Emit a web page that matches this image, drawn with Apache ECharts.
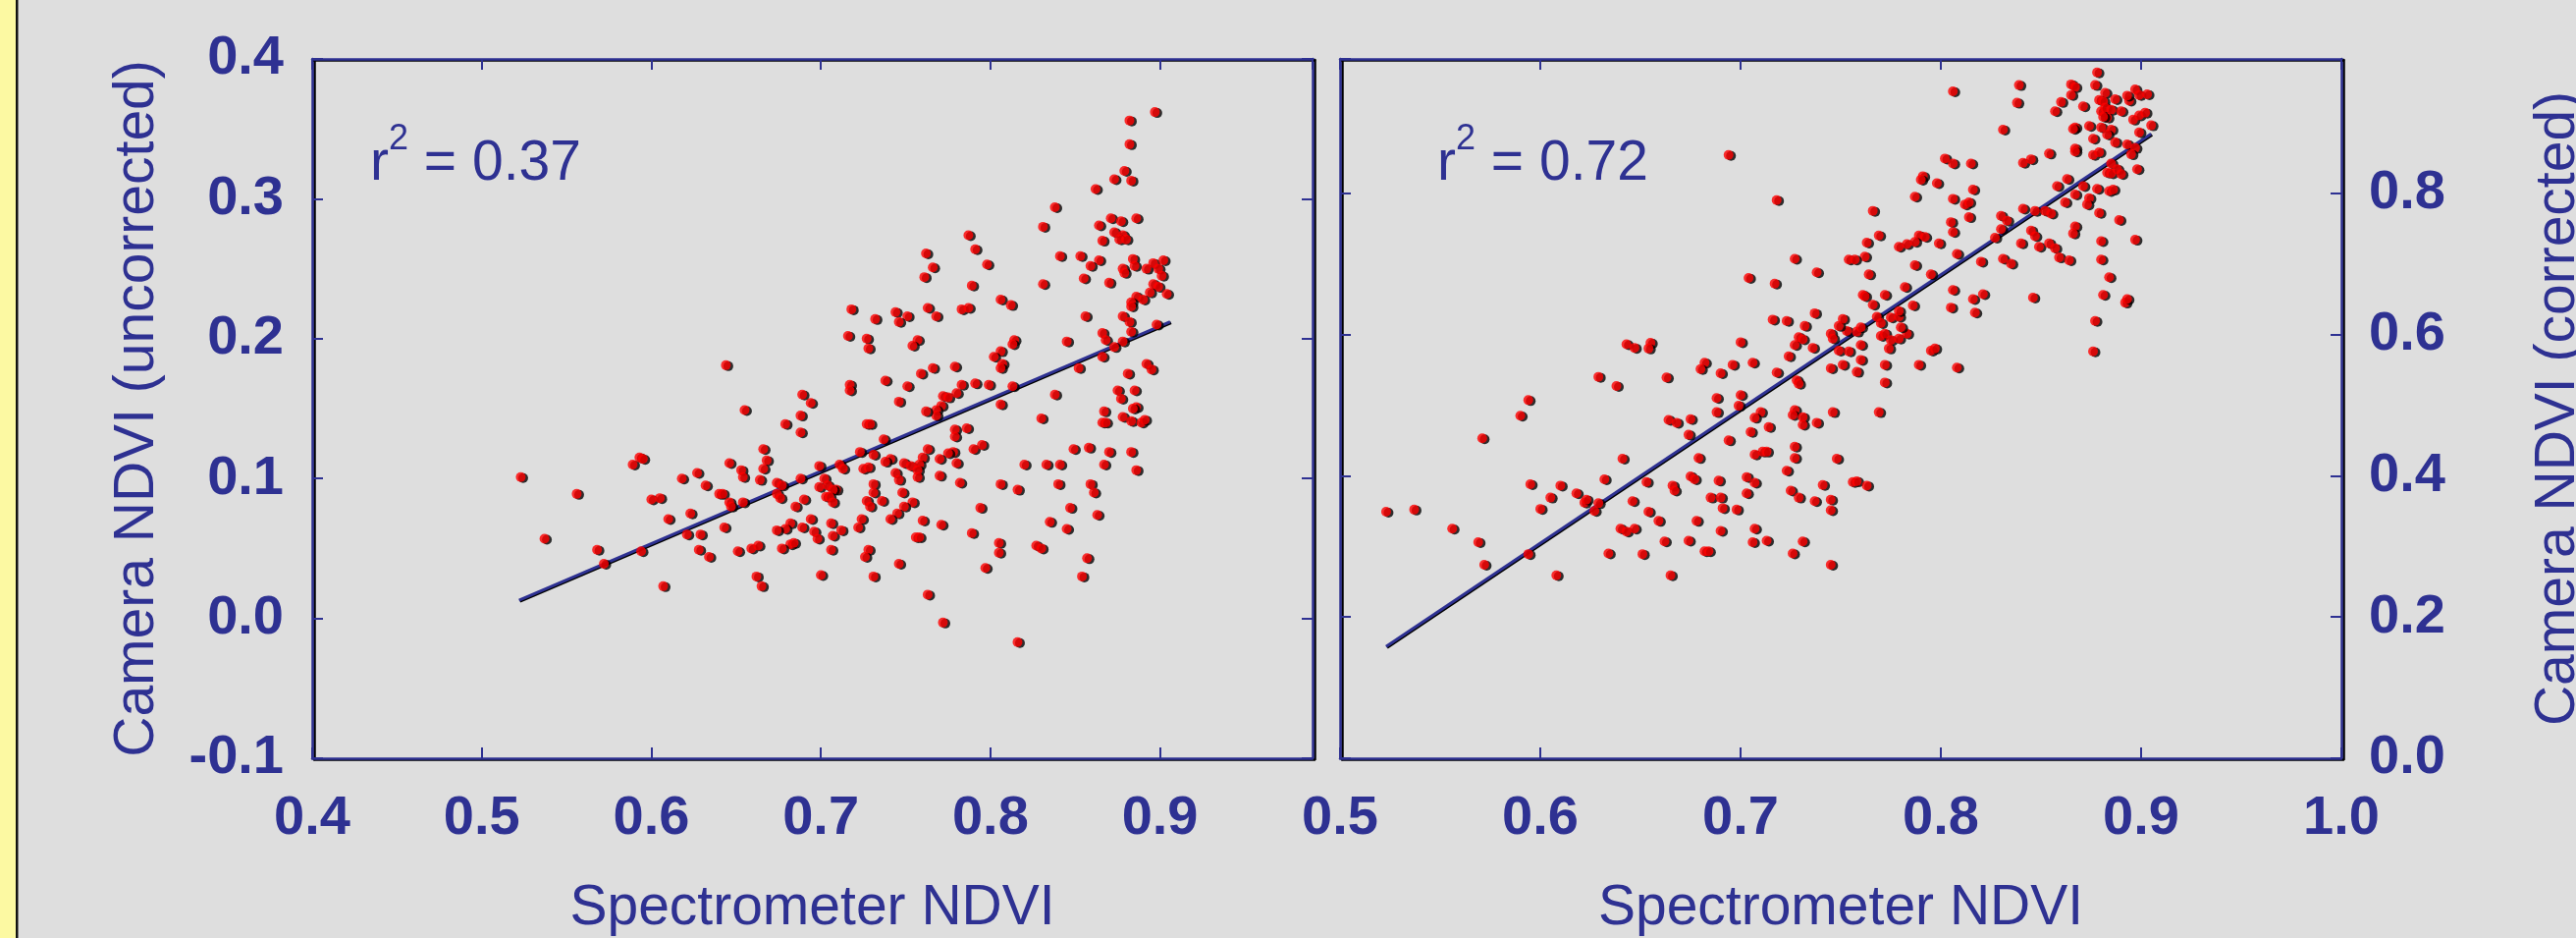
<!DOCTYPE html>
<html>
<head>
<meta charset="utf-8">
<title>Camera NDVI vs Spectrometer NDVI</title>
<script src="https://cdn.jsdelivr.net/npm/echarts@6/dist/echarts.min.js"></script>
<style>
  html, body { margin: 0; padding: 0; background: #dedede; }
  #chart { width: 2624px; height: 955px; }
</style>
</head>
<body>
<div id="chart"></div>
<script>
// slide colours
const NAVY = '#2e3192';
const FONT = 'Liberation Sans, Arial, sans-serif';

// left panel: spectrometer NDVI vs uncorrected camera NDVI
const leftLow = [
  [0.523,0.101],[0.556,0.089],[0.537,0.057],[0.568,0.049],[0.572,0.039],[0.594,0.048],[0.607,0.023],[0.589,0.110],
  [0.593,0.115],[0.595,0.114],[0.600,0.085],[0.605,0.086],[0.610,0.071],[0.618,0.100],[0.627,0.104],[0.623,0.075],
  [0.632,0.095],[0.621,0.060],[0.629,0.060],[0.628,0.049],[0.634,0.044],[0.640,0.089],[0.642,0.089],[0.644,0.181],
  [0.646,0.111],[0.653,0.106],[0.654,0.101],[0.646,0.083],[0.647,0.080],[0.654,0.083],[0.643,0.065],[0.651,0.048],
  [0.659,0.050],[0.663,0.052],[0.662,0.030],[0.665,0.023],[0.655,0.149],[0.666,0.121],[0.668,0.113],[0.666,0.107],
  [0.664,0.099],[0.674,0.097],[0.677,0.095],[0.674,0.089],[0.676,0.086],[0.679,0.139],[0.688,0.145],[0.689,0.160],
  [0.694,0.154],[0.688,0.133],[0.688,0.100],[0.685,0.080],[0.690,0.085],[0.682,0.068],[0.679,0.064],[0.674,0.063],
  [0.689,0.065],[0.694,0.071],[0.696,0.062],[0.698,0.057],[0.682,0.053],[0.684,0.054],[0.677,0.050],[0.699,0.109],
  [0.702,0.100],[0.699,0.094],[0.704,0.095],[0.709,0.092],[0.707,0.092],[0.703,0.087],[0.705,0.087],[0.707,0.083],
  [0.706,0.068],[0.707,0.059],[0.712,0.063],[0.706,0.049],[0.700,0.031],[0.711,0.110],[0.713,0.107],[0.718,0.221],
  [0.716,0.202],[0.717,0.167],[0.717,0.163]
];
const leftHigh = [
  [0.897,0.362],[0.882,0.356],[0.882,0.339],[0.879,0.320],[0.873,0.314],[0.883,0.313],[0.862,0.307],[0.838,0.294],
  [0.831,0.280],[0.871,0.286],[0.877,0.284],[0.886,0.286],[0.864,0.281],[0.873,0.276],[0.878,0.274],[0.876,0.271],
  [0.880,0.271],[0.866,0.270],[0.787,0.274],[0.791,0.264],[0.762,0.261],[0.766,0.251],[0.761,0.244],[0.798,0.253],
  [0.789,0.238],[0.841,0.259],[0.853,0.259],[0.864,0.256],[0.859,0.252],[0.855,0.243],[0.831,0.239],[0.870,0.240],
  [0.878,0.250],[0.879,0.247],[0.884,0.257],[0.885,0.252],[0.892,0.250],[0.896,0.254],[0.899,0.250],[0.902,0.256],
  [0.901,0.245],[0.896,0.239],[0.899,0.237],[0.894,0.233],[0.904,0.232],[0.886,0.230],[0.890,0.228],[0.883,0.226],
  [0.883,0.223],[0.806,0.228],[0.812,0.224],[0.783,0.221],[0.787,0.222],[0.763,0.222],[0.768,0.216],[0.744,0.219],
  [0.751,0.216],[0.746,0.212],[0.732,0.214],[0.856,0.216],[0.878,0.216],[0.882,0.212],[0.883,0.205],[0.898,0.210],
  [0.866,0.204],[0.868,0.199],[0.878,0.198],[0.873,0.194],[0.866,0.187],[0.845,0.198],[0.852,0.179],[0.814,0.199],
  [0.813,0.196],[0.806,0.191],[0.802,0.187],[0.807,0.182],[0.806,0.179],[0.757,0.199],[0.754,0.195],[0.727,0.200],
  [0.728,0.193],[0.766,0.179],[0.759,0.175],[0.779,0.180],[0.738,0.170],[0.751,0.166],[0.783,0.167],[0.791,0.168],
  [0.799,0.167],[0.813,0.166],[0.772,0.159],[0.775,0.158],[0.780,0.161],[0.771,0.152],[0.768,0.149],[0.768,0.145],
  [0.762,0.148],[0.746,0.155],[0.806,0.153],[0.838,0.160],[0.830,0.143],[0.892,0.182],[0.895,0.178],[0.881,0.175],
  [0.875,0.163],[0.885,0.163],[0.877,0.157],[0.886,0.151],[0.884,0.150],[0.867,0.148],[0.866,0.140],[0.868,0.140],
  [0.878,0.144],[0.883,0.141],[0.889,0.140],[0.891,0.142],[0.727,0.139],[0.729,0.139],[0.737,0.128],[0.779,0.135],
  [0.779,0.130],[0.786,0.136],[0.723,0.119],[0.731,0.117],[0.763,0.121],[0.790,0.121],[0.795,0.124],[0.778,0.119],
  [0.775,0.118],[0.770,0.114],[0.760,0.115],[0.741,0.114],[0.738,0.112],[0.749,0.111],[0.753,0.109],[0.758,0.110],
  [0.757,0.106],[0.757,0.101],[0.725,0.107],[0.728,0.108],[0.744,0.104],[0.746,0.099],[0.770,0.102],[0.780,0.111],
  [0.782,0.097],[0.731,0.096],[0.731,0.090],[0.727,0.084],[0.729,0.080],[0.736,0.084],[0.748,0.090],[0.754,0.083],
  [0.749,0.080],[0.745,0.075],[0.741,0.071],[0.724,0.071],[0.722,0.065],[0.760,0.070],[0.771,0.067],[0.756,0.058],
  [0.758,0.058],[0.789,0.061],[0.794,0.079],[0.806,0.096],[0.816,0.092],[0.820,0.110],[0.833,0.110],[0.841,0.110],
  [0.849,0.121],[0.858,0.122],[0.870,0.119],[0.883,0.119],[0.867,0.110],[0.886,0.106],[0.840,0.096],[0.859,0.096],
  [0.861,0.090],[0.847,0.079],[0.863,0.074],[0.835,0.069],[0.845,0.064],[0.805,0.054],[0.805,0.047],[0.827,0.052],
  [0.830,0.050],[0.857,0.043],[0.854,0.030],[0.797,0.036],[0.728,0.049],[0.726,0.044],[0.746,0.039],[0.731,0.030],
  [0.763,0.017],[0.772,-0.003],[0.816,-0.017]
];
const leftFit = [[0.522, 0.013], [0.906, 0.212]];

// right panel: spectrometer NDVI vs corrected camera NDVI
const rightLow = [
  [0.523,0.349],[0.537,0.352],[0.556,0.325],[0.569,0.306],[0.572,0.274],[0.594,0.289],[0.608,0.259],[0.571,0.453],
  [0.590,0.485],[0.594,0.507],[0.595,0.388],[0.600,0.353],[0.605,0.369],[0.610,0.386],[0.618,0.375],[0.622,0.362],
  [0.623,0.366],[0.627,0.350],[0.629,0.361],[0.632,0.395],[0.629,0.540],[0.638,0.527],[0.643,0.586],[0.647,0.581],
  [0.655,0.588],[0.654,0.580],[0.641,0.424],[0.646,0.364],[0.653,0.391],[0.654,0.349],[0.659,0.336],[0.640,0.325],
  [0.643,0.321],[0.647,0.325],[0.634,0.290],[0.651,0.289],[0.662,0.307],[0.665,0.259],[0.663,0.539],[0.664,0.479],
  [0.668,0.475],[0.675,0.480],[0.674,0.458],[0.666,0.386],[0.667,0.379],[0.675,0.399],[0.677,0.395],[0.679,0.425],
  [0.678,0.336],[0.674,0.308],[0.682,0.293],[0.684,0.293],[0.685,0.369],[0.690,0.369],[0.689,0.393],[0.691,0.354],
  [0.690,0.322],[0.698,0.352],[0.703,0.375],[0.703,0.398],[0.707,0.390],[0.707,0.325],[0.706,0.306],[0.713,0.308],
  [0.726,0.290],[0.731,0.307],[0.745,0.274],[0.682,0.560],[0.680,0.551],[0.690,0.545],[0.696,0.557],[0.700,0.589],
  [0.706,0.560],[0.688,0.510],[0.700,0.514],[0.699,0.499],[0.688,0.490],[0.694,0.450],[0.705,0.462],[0.710,0.490],
  [0.707,0.482],[0.714,0.469],[0.707,0.430],[0.711,0.434],[0.713,0.434],[0.718,0.546],[0.724,0.569],[0.727,0.585],
  [0.729,0.596],[0.731,0.593],[0.728,0.535],[0.729,0.530],[0.727,0.493],[0.726,0.486],[0.731,0.483],[0.731,0.472],
  [0.738,0.475],[0.746,0.490],[0.727,0.441],[0.727,0.425],[0.748,0.424],[0.723,0.407],[0.725,0.379],[0.729,0.369],
  [0.737,0.364],[0.741,0.387],[0.745,0.366],[0.745,0.351],[0.756,0.391],[0.758,0.392],[0.763,0.386],[0.736,0.581],
  [0.745,0.552],[0.749,0.577],[0.754,0.576],[0.751,0.557],[0.758,0.547],[0.760,0.585],[0.760,0.564],[0.745,0.601],
  [0.746,0.594],[0.753,0.605],[0.758,0.604],[0.770,0.598],[0.772,0.601],[0.775,0.592],[0.774,0.580],[0.779,0.594],
  [0.783,0.601],[0.772,0.557],[0.772,0.532],[0.769,0.490]
];
const rightMid = [
  [0.694,0.854],[0.718,0.790],[0.727,0.707],[0.704,0.680],[0.717,0.672],[0.738,0.688],[0.716,0.621],[0.723,0.619],
  [0.732,0.612],[0.737,0.630],[0.749,0.612],[0.751,0.622],[0.760,0.610],[0.768,0.625],[0.770,0.616],[0.775,0.624],
  [0.779,0.625],[0.779,0.633],[0.780,0.610],[0.766,0.775],[0.769,0.740],[0.763,0.730],[0.762,0.710],[0.754,0.706],
  [0.757,0.706],[0.764,0.685],[0.761,0.656],[0.762,0.654],[0.772,0.656],[0.766,0.642],[0.782,0.667],[0.779,0.724],
  [0.783,0.728]
];
const rightHigh = [
  [0.806,0.944],[0.839,0.953],[0.838,0.928],[0.831,0.890],[0.802,0.849],[0.806,0.842],[0.815,0.842],[0.791,0.824],
  [0.790,0.819],[0.798,0.814],[0.787,0.795],[0.816,0.805],[0.806,0.792],[0.812,0.784],[0.814,0.787],[0.814,0.766],
  [0.805,0.759],[0.806,0.745],[0.789,0.740],[0.792,0.738],[0.787,0.731],[0.799,0.729],[0.808,0.714],[0.787,0.698],
  [0.795,0.685],[0.820,0.703],[0.831,0.707],[0.835,0.700],[0.806,0.663],[0.816,0.650],[0.821,0.657],[0.805,0.638],
  [0.786,0.641],[0.817,0.631],[0.795,0.577],[0.797,0.580],[0.789,0.557],[0.808,0.553],[0.830,0.768],[0.833,0.761],
  [0.830,0.749],[0.827,0.737],[0.841,0.778],[0.840,0.729],[0.845,0.747],[0.847,0.739],[0.849,0.724],[0.847,0.775],
  [0.852,0.775],[0.855,0.771],[0.854,0.729],[0.857,0.722],[0.859,0.709],[0.864,0.705],[0.846,0.652],[0.841,0.843],
  [0.845,0.848],[0.854,0.856],[0.858,0.810],[0.863,0.820],[0.871,0.810],[0.862,0.787],[0.867,0.798],[0.874,0.793],
  [0.873,0.784],[0.867,0.753],[0.866,0.743],[0.879,0.772],[0.878,0.806],[0.884,0.803],[0.886,0.805],[0.880,0.732],
  [0.880,0.706],[0.889,0.762],[0.884,0.681],[0.881,0.656],[0.892,0.645],[0.893,0.650],[0.897,0.734],[0.877,0.619],
  [0.876,0.576],[0.878,0.971],[0.877,0.953],[0.865,0.954],[0.867,0.950],[0.865,0.939],[0.860,0.929],[0.857,0.916],
  [0.871,0.923],[0.882,0.942],[0.879,0.932],[0.881,0.930],[0.887,0.933],[0.894,0.931],[0.893,0.938],[0.897,0.947],
  [0.899,0.939],[0.903,0.940],[0.880,0.916],[0.882,0.921],[0.885,0.918],[0.883,0.907],[0.881,0.908],[0.890,0.916],
  [0.896,0.904],[0.899,0.910],[0.902,0.914],[0.905,0.896],[0.899,0.886],[0.867,0.893],[0.866,0.891],[0.874,0.895],
  [0.880,0.893],[0.885,0.890],[0.883,0.883],[0.876,0.877],[0.887,0.872],[0.867,0.863],[0.867,0.859],[0.876,0.854],
  [0.879,0.858],[0.893,0.869],[0.897,0.864],[0.895,0.855],[0.885,0.842],[0.883,0.829],[0.885,0.828],[0.888,0.834],
  [0.890,0.827],[0.898,0.834]
];
const rightFit = [[0.523, 0.158], [0.905, 0.884]];

// axis ranges and fit statistics
const leftXRange = [0.4, 0.99];
const rightXRange = [0.5, 1.0];
const leftYRange = [-0.1, 0.4];
const rightYRange = [0.0, 0.99];
const rSquared = ['0.37', '0.72'];

const chart = echarts.init(document.getElementById('chart'));

const frameLine = {
    show: true, onZero: false,
    lineStyle: { color: NAVY, width: 2.5, shadowColor: '#000', shadowOffsetX: 2, shadowOffsetY: 1 }
};
const frameTick = { show: true, inside: true, length: 11, lineStyle: { color: NAVY, width: 2 } };
const tickText = {
    show: true, color: NAVY, fontSize: 56, fontWeight: 'bold', fontFamily: FONT,
    textShadowColor: '#000', textShadowOffsetX: 1, textShadowOffsetY: 1, textShadowBlur: 0,
    formatter: v => v.toFixed(1)
};
const nameText = {
    color: NAVY, fontSize: 57, fontWeight: 'normal', fontFamily: FONT,
    textShadowColor: '#000', textShadowOffsetX: 1, textShadowOffsetY: 1, textShadowBlur: 0
};

// one axis of the box frame (labels only on the outer sides)
function axis(grid, range, interval, position, labels) {
    return {
        type: 'value', gridIndex: grid, position: position, offset: 0,
        min: range[0], max: range[1], interval: interval,
        nameMoveOverlap: false,
        axisLine: frameLine, axisTick: frameTick,
        axisLabel: labels ? Object.assign({}, tickText, labels) : { show: false },
        splitLine: { show: false }
    };
}

const xAxes = [
    Object.assign(axis(0, leftXRange, 0.1, 'bottom', { margin: 34, showMaxLabel: false }),
        { name: 'Spectrometer NDVI', nameLocation: 'middle', nameGap: 125, nameTextStyle: nameText }),
    axis(0, leftXRange, 0.1, 'top'),
    Object.assign(axis(1, rightXRange, 0.1, 'bottom', { margin: 34 }),
        { name: 'Spectrometer NDVI', nameLocation: 'middle', nameGap: 125, nameTextStyle: nameText }),
    axis(1, rightXRange, 0.1, 'top')
];
const yAxes = [
    Object.assign(axis(0, leftYRange, 0.1, 'left', { margin: 29 }),
        { name: 'Camera NDVI (uncorrected)', nameLocation: 'middle', nameRotate: 90, nameGap: 149, nameTextStyle: nameText }),
    Object.assign(axis(1, rightYRange, 0.2, 'right', { margin: 28, showMaxLabel: false }),
        { name: 'Camera NDVI (corrected)', nameLocation: 'middle', nameRotate: 90, nameGap: 193, nameTextStyle: nameText }),
    axis(0, leftYRange, 0.1, 'right'),
    axis(1, rightYRange, 0.2, 'left')
];

const dotStyle = { color: '#ff0000', shadowColor: '#000', shadowOffsetX: 2.5, shadowOffsetY: 1, shadowBlur: 0 };
function dots(xi, yi, data) {
    return { type: 'scatter', xAxisIndex: xi, yAxisIndex: yi, data: data, symbol: 'circle',
             symbolSize: 10, itemStyle: dotStyle, z: 3, silent: true };
}
function fit(xi, yi, data) {
    return { type: 'line', xAxisIndex: xi, yAxisIndex: yi, data: data, symbol: 'none', z: 2, silent: true,
             lineStyle: { color: NAVY, width: 3, shadowColor: '#000', shadowOffsetX: 1, shadowOffsetY: 1 } };
}

const rich = {
    m: { fontSize: 57, fontWeight: 'normal', lineHeight: 72, verticalAlign: 'bottom', color: NAVY, fontFamily: FONT },
    s: { fontSize: 36, fontWeight: 'normal', lineHeight: 36, verticalAlign: 'top', color: NAVY, fontFamily: FONT }
};
const rText = { fontWeight: 'normal', rich: rich };

chart.setOption({
    backgroundColor: '#dedede',
    animation: false,
    title: [
        { text: '{m|r}{s|2}{m| = ' + rSquared[0] + '}', left: 377, top: 124, padding: 0, textStyle: rText },
        { text: '{m|r}{s|2}{m| = ' + rSquared[1] + '}', left: 1464, top: 124, padding: 0, textStyle: rText }
    ],
    // fixed plot boxes; labels may run to the page edge like the slide
    grid: [
        { left: 318, top: 60, width: 1019, height: 712, containLabel: false, outerBoundsMode: 'none' },
        { left: 1365, top: 60, width: 1020, height: 712, containLabel: false, outerBoundsMode: 'none' }
    ],
    xAxis: xAxes,
    yAxis: yAxes,
    // yellow slide margin on the left
    graphic: [
        { type: 'rect', shape: { x: 0, y: 0, width: 16, height: 955 }, style: { fill: '#fcf9a2' } },
        { type: 'rect', shape: { x: 16, y: 0, width: 2.5, height: 955 }, style: { fill: '#111' } }
    ],
    series: [
        fit(0, 0, leftFit),
        dots(0, 0, leftLow),
        dots(0, 0, leftHigh),
        fit(2, 1, rightFit),
        dots(2, 1, rightLow),
        dots(2, 1, rightMid),
        dots(2, 1, rightHigh)
    ]
});
</script>
</body>
</html>
